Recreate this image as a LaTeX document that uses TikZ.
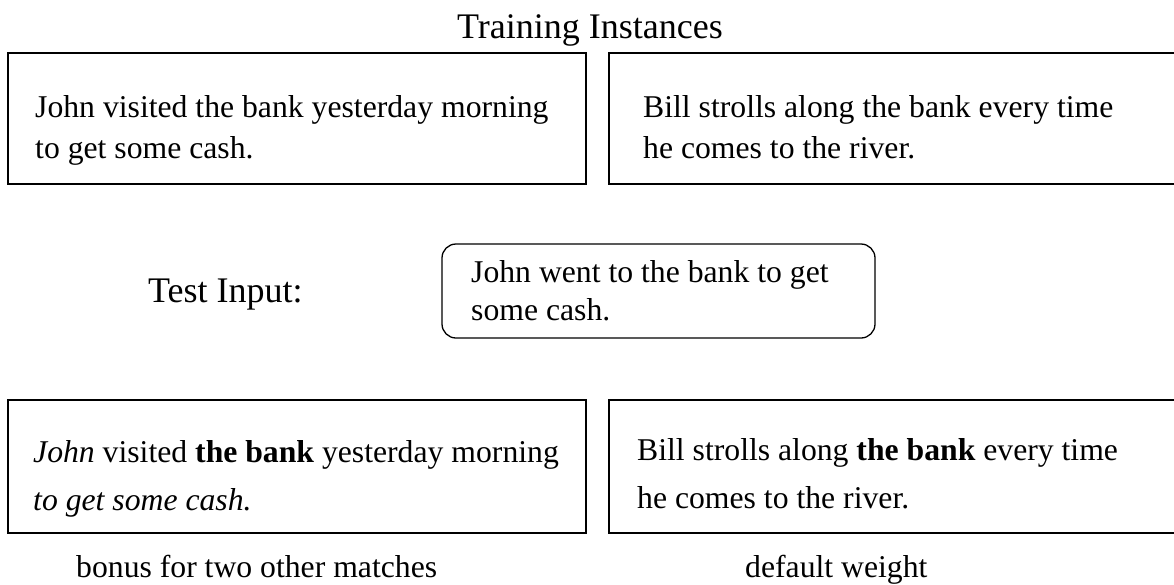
\documentclass[tikz,border=0pt]{standalone}
\usepackage{fontspec}
\setmainfont{Liberation Serif}
\begin{document}
\begin{tikzpicture}[x=1pt,y=-1pt,
  frame/.style={draw=black,line width=1.6pt},
  rframe/.style={draw=black,line width=1.3pt,rounded corners=14pt},
  txt/.style={anchor=base west,inner sep=0pt,font=\fontsize{31.7}{37}\selectfont},
  big/.style={inner sep=0pt,font=\fontsize{36}{42}\selectfont}]
\useasboundingbox (0,0) rectangle (1174,584);
\begin{scope}
\clip (0,0) rectangle (1174,584);
\draw[frame] (8,53) rectangle (586,184);
\draw[frame] (609,53) rectangle (1180,184);
\draw[rframe] (442,244) rectangle (875,338);
\draw[frame] (8,400) rectangle (586,533);
\draw[frame] (609,400) rectangle (1180,533);
\end{scope}
\node[big,anchor=base] (title) at (590,38) {Training Instances};
\node[big,anchor=base west] (test) at (148,302) {Test Input:};
\node[txt] (a1) at (35,117) {John visited the bank yesterday morning};
\node[txt] (a2) at (35,158) {to get some cash.};
\node[txt] (b1) at (643,117) {Bill strolls along the bank every time};
\node[txt] (b2) at (643,158) {he comes to the river.};
\node[txt] (c1) at (471,282) {John went to the bank to get};
\node[txt] (c2) at (471,320) {some cash.};
\node[txt] (d1) at (33,462) {\textit{John} visited \textbf{the bank} yesterday morning};
\node[txt] (d2) at (33,510) {\textit{to get some cash.}};
\node[txt] (e1) at (637,460) {Bill strolls along \textbf{the bank} every time};
\node[txt] (e2) at (637,508) {he comes to the river.};
\node[txt] (l1) at (76,577) {bonus for two other matches};
\node[txt] (l2) at (745,577) {default weight};
\end{tikzpicture}
\end{document}
